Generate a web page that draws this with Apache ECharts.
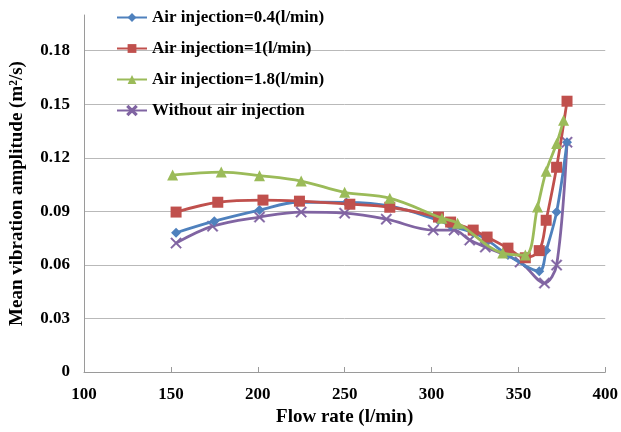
<!DOCTYPE html>
<html>
<head>
<meta charset="utf-8">
<script src="https://cdn.jsdelivr.net/npm/echarts@6/dist/echarts.min.js"></script>
<style>
  html, body { margin: 0; padding: 0; background: #fff; }
  #chart { width: 621px; height: 432px; }
</style>
</head>
<body>
<div id="chart"></div>
<script>
// Flow rate (l/min) and mean vibration amplitude (m^2/s) for each case
const seriesNames = [
  'Air injection=0.4(l/min)',
  'Air injection=1(l/min)',
  'Air injection=1.8(l/min)',
  'Without air injection'
];

const flowAir04 = [153, 175, 201, 223, 251, 276, 304, 311, 324, 332, 344, 362, 366, 372, 378];
const ampAir04  = [0.078, 0.0845, 0.0907, 0.0951, 0.095, 0.093, 0.085, 0.082, 0.078, 0.074, 0.0655, 0.0565, 0.068, 0.0896, 0.1287];

const flowAir1 = [153, 177, 203, 224, 253, 276, 304, 311, 324, 332, 344, 354, 362, 366, 372, 378];
const ampAir1  = [0.0896, 0.0951, 0.0963, 0.0957, 0.094, 0.0923, 0.0868, 0.084, 0.0795, 0.0756, 0.0694, 0.064, 0.068, 0.085, 0.1147, 0.1517];

const flowAir18 = [151, 179, 201, 225, 250, 276, 306, 315, 341, 354, 361, 366, 372, 376];
const ampAir18  = [0.1103, 0.112, 0.110, 0.107, 0.1007, 0.0974, 0.0862, 0.0834, 0.0666, 0.0655, 0.0924, 0.1125, 0.128, 0.141];

const flowNoAir = [153, 174, 201, 225, 250, 274, 301, 313, 322, 331, 351, 365, 372, 378];
const ampNoAir  = [0.0722, 0.0817, 0.0868, 0.0896, 0.089, 0.0856, 0.0795, 0.0795, 0.0739, 0.070, 0.0616, 0.0498, 0.0599, 0.1287];

const xTicks = { min: 100, max: 400, step: 50 };
const yTicks = { min: 0, max: 0.2, step: 0.03 };

const colors = ['#4F81BD', '#C0504D', '#9BBB59', '#8064A2'];
const crossPath = 'path://M0,1 L1,0 L5,4 L9,0 L10,1 L6,5 L10,9 L9,10 L5,6 L1,10 L0,9 L4,5 Z';
const symbols = ['diamond', 'rect', 'triangle', crossPath];
const symbolSizes = [10, 11, 11, 11];

function pairs(xs, ys) {
  return xs.map((x, i) => [x, ys[i]]);
}

const dataSets = [
  pairs(flowAir04, ampAir04),
  pairs(flowAir1, ampAir1),
  pairs(flowAir18, ampAir18),
  pairs(flowNoAir, ampNoAir)
];

const font = 'Liberation Serif, Times New Roman, serif';
const gridColor = '#b9b9b9';

const chart = echarts.init(document.getElementById('chart'), null, { renderer: 'canvas' });

chart.setOption({
  animation: false,
  backgroundColor: '#ffffff',
  color: colors,
  grid: { left: 78, right: 15, top: 15, bottom: 60, containLabel: false },
  legend: {
    orient: 'vertical',
    left: 111,
    top: 4,
    itemWidth: 30,
    itemHeight: 11,
    itemGap: 14,
    textStyle: { fontFamily: font, fontWeight: 'bold', fontSize: 17, color: '#000' },
    data: seriesNames
  },
  xAxis: {
    type: 'value',
    min: xTicks.min,
    max: xTicks.max,
    interval: xTicks.step,
    name: 'Flow rate (l/min)',
    nameLocation: 'middle',
    nameGap: 33,
    nameTextStyle: { fontFamily: font, fontWeight: 'bold', fontSize: 19, color: '#000' },
    axisLine: { lineStyle: { color: '#9a9a9a', width: 1 } },
    axisTick: { show: true, inside: true, length: 5, lineStyle: { color: '#9a9a9a' } },
    axisLabel: { fontFamily: font, fontWeight: 'bold', fontSize: 17, color: '#000', margin: 14 },
    splitLine: { show: false }
  },
  yAxis: {
    type: 'value',
    min: yTicks.min,
    max: yTicks.max,
    interval: yTicks.step,
    name: 'Mean vibration amplitude (m\u00B2/s)',
    nameLocation: 'middle',
    nameGap: 57,
    nameTextStyle: { fontFamily: font, fontWeight: 'bold', fontSize: 19, color: '#000' },
    axisLine: { show: true, lineStyle: { color: '#9a9a9a', width: 1 } },
    axisTick: { show: false },
    axisLabel: {
      fontFamily: font, fontWeight: 'bold', fontSize: 17, color: '#000', margin: 14,
      showMaxLabel: false,
      formatter: v => (v === 0 ? '0' : v.toFixed(2))
    },
    splitLine: {
      show: true,
      lineStyle: {
        color: [gridColor, gridColor, gridColor, gridColor, gridColor, gridColor, gridColor, 'transparent'],
        width: 1
      }
    }
  },
  series: seriesNames.map((name, i) => ({
    name,
    type: 'line',
    data: dataSets[i],
    smooth: 0.35,
    symbol: symbols[i],
    symbolSize: symbolSizes[i],
    showAllSymbol: true,
    lineStyle: { width: 2.8, color: colors[i] },
    itemStyle: { color: colors[i], borderColor: colors[i], borderWidth: i === 3 ? 0.5 : 0 },
    z: [3, 4, 5, 2][i]
  }))
});
</script>
</body>
</html>
